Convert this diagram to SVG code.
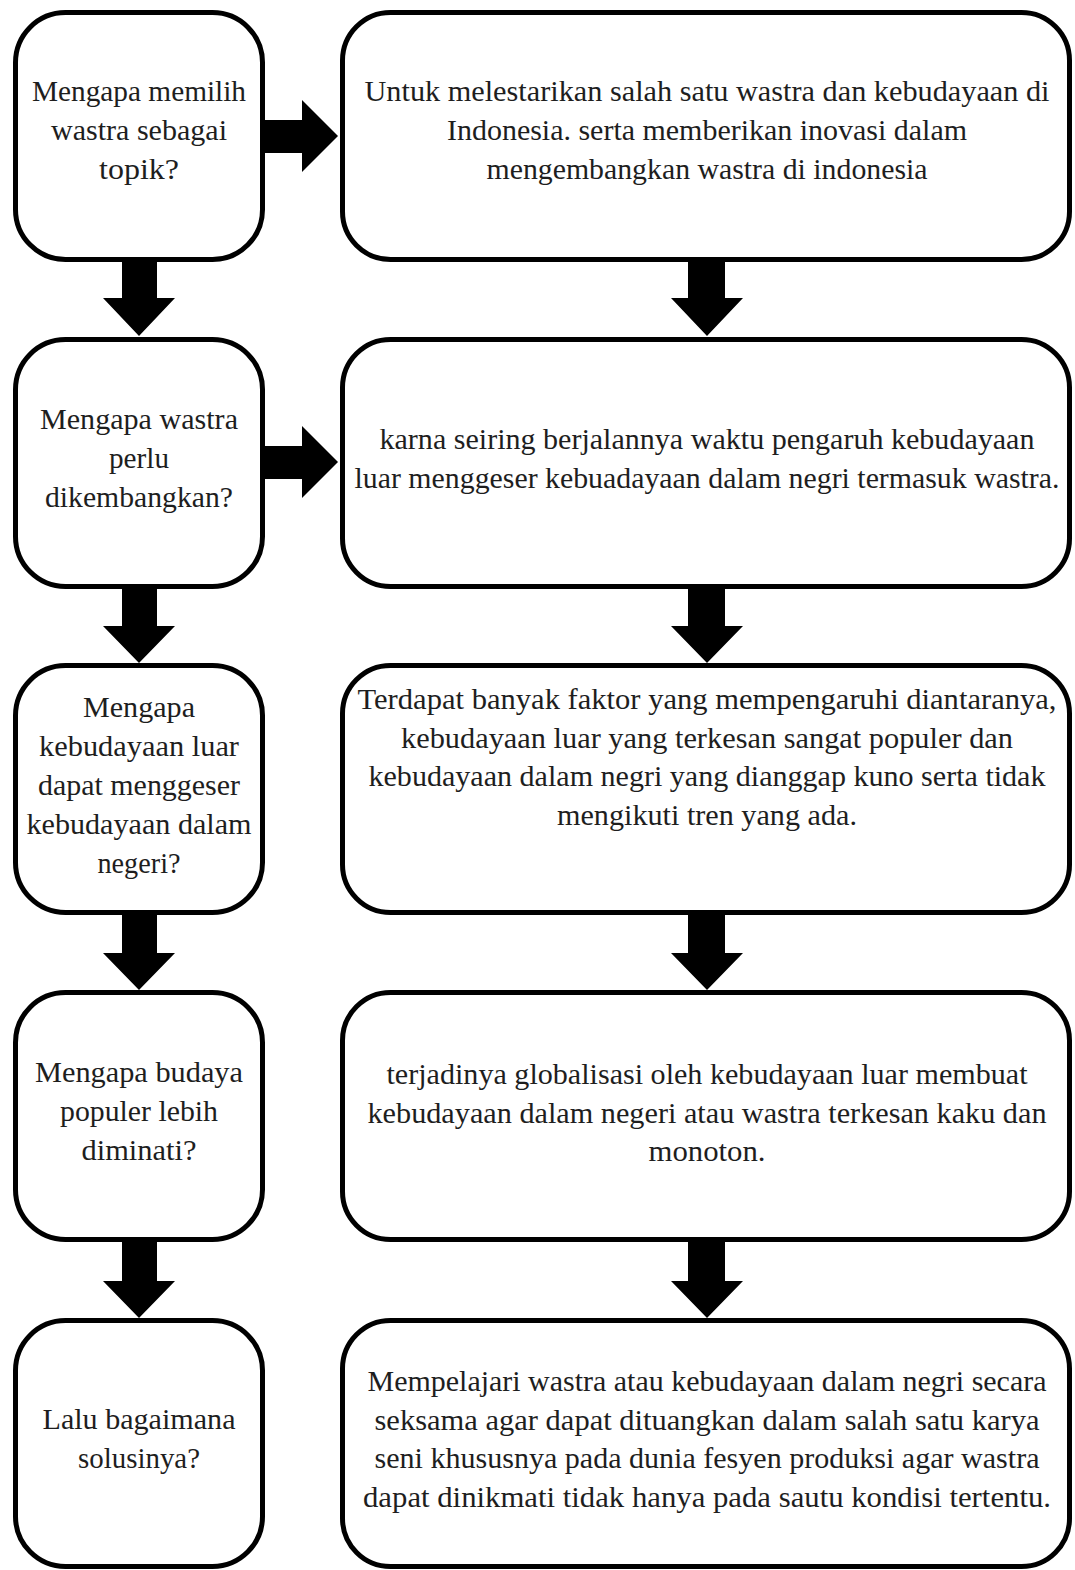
<svg xmlns="http://www.w3.org/2000/svg" width="1075" height="1570" viewBox="0 0 1075 1570">
<style>
.box{fill:#fff;stroke:#000;stroke-width:5}
.arr{fill:#000}
text{font-family:"Liberation Serif","Times New Roman",serif;fill:#1e1e1e;text-anchor:middle}
.q{font-size:29px}
.a{font-size:30px}
</style>
<rect width="1075" height="1570" fill="#fff"/>
<g id="connectors">
<polygon class="arr" points="263,120 302,120 302,100 338,136 302,172 302,153 263,153"/>
<polygon class="arr" points="263,446 302,446 302,426 338,462 302,498 302,479 263,479"/>
<polygon class="arr" points="122,259 157,259 157,298 175,298 139,336 103,298 122,298"/>
<polygon class="arr" points="122,586 157,586 157,626 175,626 139,663 103,626 122,626"/>
<polygon class="arr" points="122,913 157,913 157,953 175,953 139,990 103,953 122,953"/>
<polygon class="arr" points="122,1240 157,1240 157,1281 175,1281 139,1318 103,1281 122,1281"/>
<polygon class="arr" points="688,259 725,259 725,298 743,298 707,336 671,298 688,298"/>
<polygon class="arr" points="688,586 725,586 725,626 743,626 707,663 671,626 688,626"/>
<polygon class="arr" points="688,913 725,913 725,953 743,953 707,990 671,953 688,953"/>
<polygon class="arr" points="688,1240 725,1240 725,1281 743,1281 707,1318 671,1281 688,1281"/>
</g>
<g id="q1"><rect class="box" x="15.5" y="12.5" width="247" height="247" rx="50"/>
<text class="q"><tspan x="139" y="101" textLength="214" lengthAdjust="spacingAndGlyphs">Mengapa memilih</tspan><tspan x="139" y="140" textLength="176" lengthAdjust="spacingAndGlyphs">wastra sebagai</tspan><tspan x="139" y="179" textLength="80" lengthAdjust="spacingAndGlyphs">topik?</tspan></text></g>
<g id="a1"><rect class="box" x="342.5" y="12.5" width="727" height="247" rx="48"/>
<text class="a"><tspan x="707" y="101" textLength="685" lengthAdjust="spacingAndGlyphs">Untuk melestarikan salah satu wastra dan kebudayaan di</tspan><tspan x="707" y="140" textLength="520" lengthAdjust="spacingAndGlyphs">Indonesia. serta memberikan inovasi dalam</tspan><tspan x="707" y="179" textLength="441" lengthAdjust="spacingAndGlyphs">mengembangkan wastra di indonesia</tspan></text></g>
<g id="q2"><rect class="box" x="15.5" y="339.5" width="247" height="247" rx="50"/>
<text class="q"><tspan x="139" y="429" textLength="198" lengthAdjust="spacingAndGlyphs">Mengapa wastra</tspan><tspan x="139" y="468" textLength="60" lengthAdjust="spacingAndGlyphs">perlu</tspan><tspan x="139" y="507" textLength="188" lengthAdjust="spacingAndGlyphs">dikembangkan?</tspan></text></g>
<g id="a2"><rect class="box" x="342.5" y="339.5" width="727" height="247" rx="48"/>
<text class="a"><tspan x="707" y="449" textLength="655" lengthAdjust="spacingAndGlyphs">karna seiring berjalannya waktu pengaruh kebudayaan</tspan><tspan x="707" y="488" textLength="705" lengthAdjust="spacingAndGlyphs">luar menggeser kebuadayaan dalam negri termasuk wastra.</tspan></text></g>
<g id="q3"><rect class="box" x="15.5" y="665.5" width="247" height="247" rx="50"/>
<text class="q"><tspan x="139" y="717" textLength="112" lengthAdjust="spacingAndGlyphs">Mengapa</tspan><tspan x="139" y="756" textLength="200" lengthAdjust="spacingAndGlyphs">kebudayaan luar</tspan><tspan x="139" y="795" textLength="202" lengthAdjust="spacingAndGlyphs">dapat menggeser</tspan><tspan x="139" y="834" textLength="225" lengthAdjust="spacingAndGlyphs">kebudayaan dalam</tspan><tspan x="139" y="873" textLength="83" lengthAdjust="spacingAndGlyphs">negeri?</tspan></text></g>
<g id="a3"><rect class="box" x="342.5" y="665.5" width="727" height="247" rx="48"/>
<text class="a"><tspan x="707" y="709" textLength="699" lengthAdjust="spacingAndGlyphs">Terdapat banyak faktor yang mempengaruhi diantaranya,</tspan><tspan x="707" y="748" textLength="612" lengthAdjust="spacingAndGlyphs">kebudayaan luar yang terkesan sangat populer dan</tspan><tspan x="707" y="786" textLength="677" lengthAdjust="spacingAndGlyphs">kebudayaan dalam negri yang dianggap kuno serta tidak</tspan><tspan x="707" y="825" textLength="300" lengthAdjust="spacingAndGlyphs">mengikuti tren yang ada.</tspan></text></g>
<g id="q4"><rect class="box" x="15.5" y="992.5" width="247" height="247" rx="50"/>
<text class="q"><tspan x="139" y="1082" textLength="208" lengthAdjust="spacingAndGlyphs">Mengapa budaya</tspan><tspan x="139" y="1121" textLength="158" lengthAdjust="spacingAndGlyphs">populer lebih</tspan><tspan x="139" y="1160" textLength="115" lengthAdjust="spacingAndGlyphs">diminati?</tspan></text></g>
<g id="a4"><rect class="box" x="342.5" y="992.5" width="727" height="247" rx="48"/>
<text class="a"><tspan x="707" y="1084" textLength="641" lengthAdjust="spacingAndGlyphs">terjadinya globalisasi oleh kebudayaan luar membuat</tspan><tspan x="707" y="1123" textLength="679" lengthAdjust="spacingAndGlyphs">kebudayaan dalam negeri atau wastra terkesan kaku dan</tspan><tspan x="707" y="1161" textLength="117" lengthAdjust="spacingAndGlyphs">monoton.</tspan></text></g>
<g id="q5"><rect class="box" x="15.5" y="1320.5" width="247" height="246" rx="50"/>
<text class="q"><tspan x="139" y="1429" textLength="193" lengthAdjust="spacingAndGlyphs">Lalu bagaimana</tspan><tspan x="139" y="1468" textLength="122" lengthAdjust="spacingAndGlyphs">solusinya?</tspan></text></g>
<g id="a5"><rect class="box" x="342.5" y="1320.5" width="727" height="246" rx="48"/>
<text class="a"><tspan x="707" y="1391" textLength="679" lengthAdjust="spacingAndGlyphs">Mempelajari wastra atau kebudayaan dalam negri secara</tspan><tspan x="707" y="1430" textLength="665" lengthAdjust="spacingAndGlyphs">seksama agar dapat dituangkan dalam salah satu karya</tspan><tspan x="707" y="1468" textLength="665" lengthAdjust="spacingAndGlyphs">seni khususnya pada dunia fesyen produksi agar wastra</tspan><tspan x="707" y="1507" textLength="688" lengthAdjust="spacingAndGlyphs">dapat dinikmati tidak hanya pada sautu kondisi tertentu.</tspan></text></g>
</svg>
